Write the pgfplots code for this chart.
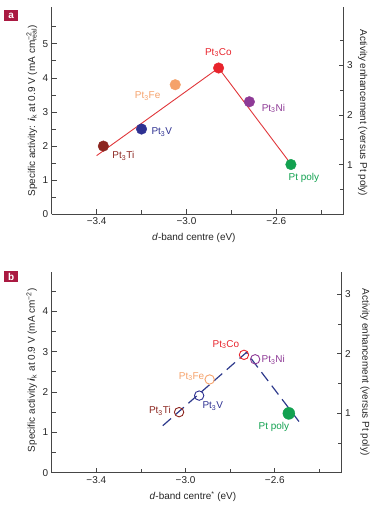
\documentclass[border=0pt]{standalone}
\usepackage{fontspec}
\setmainfont{Liberation Sans}
\usepackage{pgfplots}
\pgfplotsset{compat=1.18}
\definecolor{cTi}{RGB}{140,38,32}
\definecolor{cV}{RGB}{46,49,146}
\definecolor{cFe}{RGB}{245,162,107}
\definecolor{cCo}{RGB}{232,36,44}
\definecolor{cNi}{RGB}{142,58,150}
\definecolor{cPt}{RGB}{18,161,80}
\definecolor{cLineA}{RGB}{224,54,58}
\definecolor{cLineB}{RGB}{46,58,140}
\definecolor{cBox}{RGB}{170,25,65}
\definecolor{cAx}{RGB}{70,70,70}
\pgfplotsset{
  /pgf/number format/assume math mode=true,
  base/.style={
    scale only axis, anchor=south west,
    xmin=-3.6, xmax=-2.3,
    tick align=inside,
    font=\fontsize{10}{12}\selectfont,
    tick label style={font=\fontsize{10}{12}\selectfont, text=black!85},
    label style={font=\fontsize{10}{12}\selectfont, text=black!85},
    axis line style={cAx, line width=0.7bp},
    every tick/.style={cAx, line width=0.7bp},
    major tick length=5bp, minor tick length=4bp,
    clip=false,
  },
  leftax/.style={base,
    axis y line*=left, axis x line*=bottom,
    xtick={-3.4,-3.0,-2.6}, xticklabels={−3.4,−3.0,−2.6},
    minor xtick={-3.2,-2.8,-2.4},
  },
  rightax/.style={base,
    axis y line*=right, axis x line=none,
    ytick={1,2,3},
  },
}
\begin{document}
\begin{tikzpicture}
\useasboundingbox (0,0) rectangle (380bp,509bp);
% ---------------- Panel a ----------------
\begin{axis}[leftax, at={(51.7bp,294.7bp)}, width=292bp, height=207bp,
  ymin=0, ymax=6.07, ytick={0,1,2,3,4,5}, minor ytick={0.5,1.5,2.5,3.5,4.5,5.5},
  xlabel={\textit{d}-band centre (eV)},
  xlabel style={at={(axis description cs:0.487,-0.116)}, anchor=center},
  ylabel={Specific activity: \textbf{\textit{i}}\textsubscript{k} at 0.9 V (mA cm\rlap{\textsuperscript{−2}}\textsubscript{real})},
  ylabel style={at={(axis description cs:-0.068,0.5)}, anchor=center, rotate=0},
]
\addplot[cLineA, line width=0.9bp] coordinates {(-3.40,1.72) (-2.857,4.29) (-2.537,1.49)};
\addplot[only marks, mark=*, mark size=5.3bp, draw=cTi, fill=cTi] coordinates {(-3.37,2.00)};
\addplot[only marks, mark=*, mark size=5.3bp, draw=cV, fill=cV] coordinates {(-3.20,2.50)};
\addplot[only marks, mark=*, mark size=5.3bp, draw=cFe, fill=cFe] coordinates {(-3.05,3.80)};
\addplot[only marks, mark=*, mark size=5.3bp, draw=cCo, fill=cCo] coordinates {(-2.857,4.29)};
\addplot[only marks, mark=*, mark size=5.3bp, draw=cNi, fill=cNi] coordinates {(-2.72,3.30)};
\addplot[only marks, mark=*, mark size=5.3bp, draw=cPt, fill=cPt] coordinates {(-2.535,1.46)};
\node[text=cTi] at (axis cs:-3.281,1.71) {Pt\textsubscript{3}Ti};
\node[text=cV] at (axis cs:-3.110,2.41) {Pt\textsubscript{3}V};
\node[text=cFe] at (axis cs:-3.173,3.46) {Pt\textsubscript{3}Fe};
\node[text=cCo] at (axis cs:-2.858,4.75) {Pt\textsubscript{3}Co};
\node[text=cNi] at (axis cs:-2.613,3.10) {Pt\textsubscript{3}Ni};
\node[text=cPt] at (axis cs:-2.477,1.07) {Pt poly};
\end{axis}
\begin{axis}[rightax, at={(51.7bp,294.7bp)}, width=292bp, height=207bp,
  ymin=0, ymax=4.17, minor ytick={0.5,1.5,2.5,3.5},
  ylabel={Activity enhancement (versus Pt poly)},
  ylabel style={at={(axis description cs:1.065,0.49)}, anchor=center, rotate=180},
]
\end{axis}
\node[fill=cBox, text=white, font=\bfseries\fontsize{10}{11}\selectfont, minimum width=14bp, minimum height=11bp, inner sep=0pt] at (11.2bp,493.5bp) {a};
% ---------------- Panel b ----------------
\begin{axis}[leftax, at={(51.7bp,36.3bp)}, width=290bp, height=201bp,
  ymin=0, ymax=4.98, ytick={0,1,2,3,4}, minor ytick={0.5,1.5,2.5,3.5,4.5},
  xlabel={\textit{d}-band centre\textsuperscript{*} (eV)},
  xlabel style={at={(axis description cs:0.487,-0.119)}, anchor=center},
  ylabel={Specific activity \textbf{\textit{i}}\textsubscript{k} at 0.9 V (mA cm\textsuperscript{−2})},
  ylabel style={at={(axis description cs:-0.069,0.51)}, anchor=center, rotate=0},
]
\addplot[cLineB, line width=1.2bp, dash pattern=on 11bp off 6bp] coordinates {(-3.102,1.165) (-2.727,2.98) (-2.485,1.22)};
\addplot[only marks, mark=*, mark size=6bp, draw=cPt, fill=cPt] coordinates {(-2.537,1.47)};
\addplot[only marks, mark=o, mark size=4.7bp, line width=0.9bp, draw=cTi] coordinates {(-3.029,1.50)};
\addplot[only marks, mark=o, mark size=4.7bp, line width=0.9bp, draw=cV] coordinates {(-2.939,1.91)};
\addplot[only marks, mark=o, mark size=4.7bp, line width=0.9bp, draw=cFe] coordinates {(-2.892,2.31)};
\addplot[only marks, mark=o, mark size=4.7bp, line width=0.9bp, draw=cCo] coordinates {(-2.738,2.92)};
\addplot[only marks, mark=o, mark size=4.7bp, line width=0.9bp, draw=cNi] coordinates {(-2.688,2.81)};
\node[text=cTi] at (axis cs:-3.115,1.53) {Pt\textsubscript{3}Ti};
\node[text=cV] at (axis cs:-2.878,1.65) {Pt\textsubscript{3}V};
\node[text=cFe] at (axis cs:-2.973,2.38) {Pt\textsubscript{3}Fe};
\node[text=cCo] at (axis cs:-2.819,3.17) {Pt\textsubscript{3}Co};
\node[text=cNi] at (axis cs:-2.607,2.79) {Pt\textsubscript{3}Ni};
\node[text=cPt] at (axis cs:-2.604,1.14) {Pt poly};
\end{axis}
\begin{axis}[rightax, at={(51.7bp,36.3bp)}, width=290bp, height=201bp,
  ymin=0, ymax=3.38, minor ytick={0.5,1.5,2.5},
  ylabel={Activity enhancement (versus Pt poly)},
  ylabel style={at={(axis description cs:1.080,0.5)}, anchor=center, rotate=180},
]
\end{axis}
\node[fill=cBox, text=white, font=\bfseries\fontsize{10}{11}\selectfont, minimum width=14bp, minimum height=11bp, inner sep=0pt] at (11.2bp,232.3bp) {b};
\end{tikzpicture}
\end{document}
